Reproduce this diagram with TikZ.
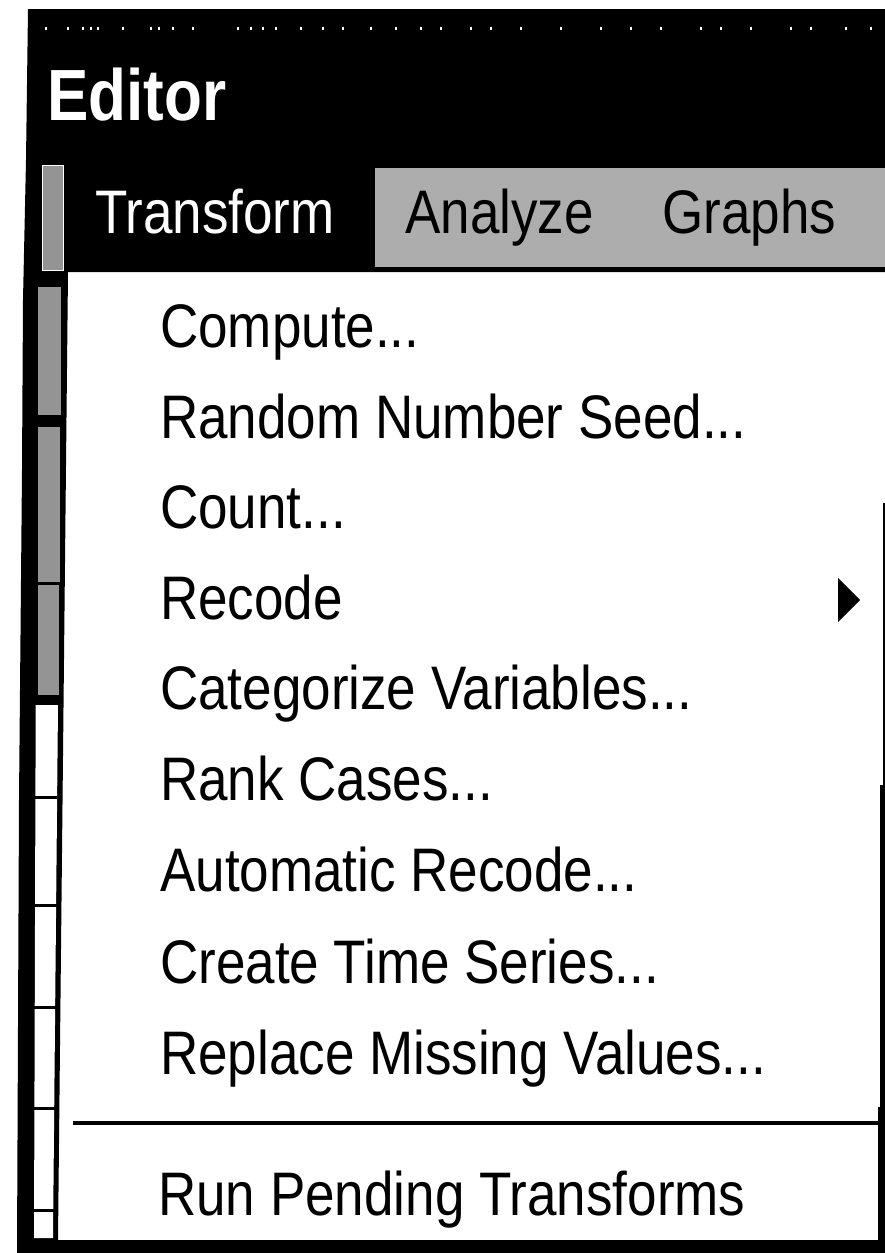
\documentclass[tikz,border=0pt]{standalone}
\usepackage{fontspec}
\setmainfont{Liberation Sans}
\usepackage{graphicx}
\newcommand{\tallmenu}[1]{\scalebox{1}[1.16]{#1}}
\newcommand{\talltitle}[1]{\scalebox{1}[1.17]{#1}}
\tikzset{
  menuitem/.style={anchor=base west, inner sep=0pt, text=black, font=\fontsize{53}{60}\selectfont},
  baritem/.style={anchor=base west, inner sep=0pt, font=\fontsize{53}{60}\selectfont},
  titletext/.style={anchor=base west, inner sep=0pt, text=white, font=\fontsize{62}{70}\selectfont\bfseries},
  dither/.style={fill=black!32},
  stripdither/.style={fill=black!42},
}
\begin{document}
\begin{tikzpicture}[x=1pt,y=-1pt]
\useasboundingbox (0,0) rectangle (885,1253);
\fill[white] (0,0) rectangle (885,1253);
% black frame: title bar, menu bar, left band, bottom band
\fill[black] (28,9) -- (885,9) -- (885,272) -- (68,272) -- (58,1240) -- (885,1240)
  -- (885,1253) -- (17,1253) -- (19,800) -- (22,470) -- (23,300) -- (26,160) -- cycle;
% faint title dots
\foreach \dx in {45,67,82,90,97,122,150,158,172,192,237,250,262,275,300,322,342,370,395,420,440,470,490,520,560,600,630,660,700,720,750,790,810,845,870}
  \fill[white] (\dx,27) rectangle ++(2,3);
% title
\node[titletext] (title) at (47,120) {\talltitle{Editor}};
% menu bar
\fill[stripdither] (42,165) rectangle (63,270);
\draw[white, line width=1pt] (42,165) rectangle (63,270);
\node[baritem, text=white] (transform) at (95,233) {\tallmenu{Transform}};
\fill[dither] (375,168) rectangle (885,267);
\node[baritem, text=black] (analyze) at (405,233) {\tallmenu{Analyze}};
\node[baritem, text=black] (graphs) at (662,233) {\tallmenu{Graphs}};
% left toolbar strip
\fill[stripdither] (38,287) rectangle (61,415);
\fill[stripdither] (38,427) rectangle (60,582);
\fill[stripdither] (38,585) rectangle (59,695);
\fill[white] (35.7,705) -- (58,705) -- (53,1238) -- (34,1238) -- cycle;
\foreach \ty in {797,905,1007,1108,1210}
  \draw[black, line width=3pt] (33,\ty) -- (57,\ty);
% right border of the menu
\fill[black] (883,503) rectangle (885,785);
\fill[black] (880,785) rectangle (885,1107);
\fill[black] (878,1107) rectangle (885,1240);
% menu items
\node[menuitem] (compute) at (160,347) {\tallmenu{Compute...}};
\node[menuitem] (seed) at (160,438) {\tallmenu{Random Number Seed...}};
\node[menuitem] (count) at (160,528) {\tallmenu{Count...}};
\node[menuitem] (recode) at (160,619) {\tallmenu{Recode}};
\node[menuitem] (categorize) at (160,709) {\tallmenu{Categorize Variables...}};
\node[menuitem] (rank) at (160,800) {\tallmenu{Rank Cases...}};
\node[menuitem] (autorecode) at (160,891) {\tallmenu{Automatic Recode...}};
\node[menuitem] (timeseries) at (160,983) {\tallmenu{Create Time Series...}};
\node[menuitem] (missing) at (160,1074) {\tallmenu{Replace Missing Values...}};
\node[menuitem] (pending) at (158,1215) {\tallmenu{Run Pending Transforms}};
% submenu arrow
\fill[black] (838,578) -- (860,600) -- (838,622) -- cycle;
% separator
\draw[black, line width=4pt] (73,1123) -- (880,1123);
\end{tikzpicture}
\end{document}
